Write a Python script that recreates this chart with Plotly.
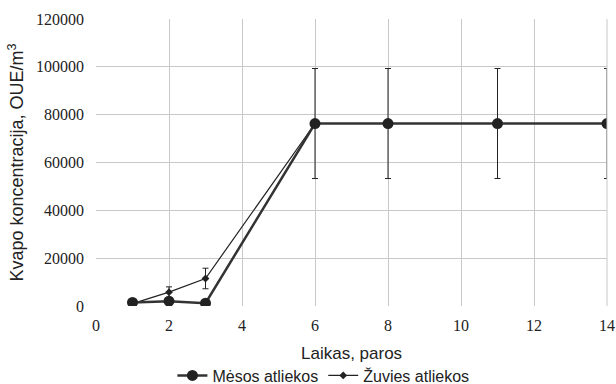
import plotly.graph_objects as go

days_meat = [1, 2, 3, 6, 8, 11, 14]
meat = [1500, 2000, 1200, 76300, 76300, 76300, 76300]
meat_err = [0, 0, 0, 23000, 23000, 23000, 23000]

days_fish = [1, 2, 3, 6, 8, 11, 14]
fish = [1000, 5800, 11500, 76300, 76300, 76300, 76300]
fish_err = [0, 2200, 4300, 0, 0, 0, 0]

x_ticks = [0, 2, 4, 6, 8, 10, 12, 14]
y_ticks = [0, 20000, 40000, 60000, 80000, 100000, 120000]
y_tick_labels = ["0", "20000", "40000", "60000", "80000", "100000", "120000"]

fig = go.Figure()
fig.add_trace(go.Scatter(
    x=days_fish, y=fish, mode="lines+markers", name="Žuvies atliekos",
    line=dict(color="#222222", width=1.2),
    marker=dict(symbol="diamond", size=6, color="#222222"),
    error_y=dict(type="data", array=fish_err, visible=True, color="#222222", thickness=1, width=3),
))
fig.add_trace(go.Scatter(
    x=days_meat, y=meat, mode="lines+markers", name="Mėsos atliekos",
    line=dict(color="#333333", width=2.5),
    marker=dict(symbol="circle", size=11, color="#222222"),
    error_y=dict(type="data", array=meat_err, visible=True, color="#222222", thickness=1, width=3),
))

fig.update_layout(
    width=616, height=384,
    margin=dict(l=96, r=9, t=19, b=78),
    paper_bgcolor="white", plot_bgcolor="white",
    showlegend=True,
    legend=dict(orientation="h", x=0.525, xanchor="center", xref="container",
                y=0.022, yanchor="middle", yref="container",
                font=dict(family="Liberation Sans, Arial", size=16, color="#222"),
                traceorder="reversed", itemwidth=30, tracegroupgap=0),
    xaxis=dict(range=[0, 14], tickvals=x_ticks, showgrid=True, gridcolor="#c8c8c8", gridwidth=1,
               zeroline=False, showline=False, ticks="", automargin=False, ticklabelstandoff=8,
               tickfont=dict(family="Liberation Serif, Times New Roman", size=16, color="#222")),
    yaxis=dict(range=[0, 120000], tickvals=y_ticks, ticktext=y_tick_labels, showgrid=True,
               gridcolor="#c8c8c8", gridwidth=1, automargin=False,
               zeroline=False, showline=False, ticks="", ticklabelstandoff=11,
               tickfont=dict(family="Liberation Serif, Times New Roman", size=16, color="#222"),
               title=dict(text="Kvapo koncentracija, OUE/m<sup>3</sup>",
                          font=dict(family="Liberation Sans, Arial", size=18, color="#222"), standoff=7)),
    annotations=[dict(text="Laikas, paros", xref="paper", yref="paper", x=0.5, y=-0.167,
                      xanchor="center", yanchor="middle", showarrow=False,
                      font=dict(family="Liberation Sans, Arial", size=17, color="#222"))],
)
fig.add_shape(type="line", xref="paper", yref="paper", x0=1, x1=1, y0=0, y1=1,
              line=dict(color="#c8c8c8", width=1))

fig.write_html("out.html", config={"displayModeBar": False},
               post_script="document.body.style.margin='0';document.body.style.overflow='hidden';")
